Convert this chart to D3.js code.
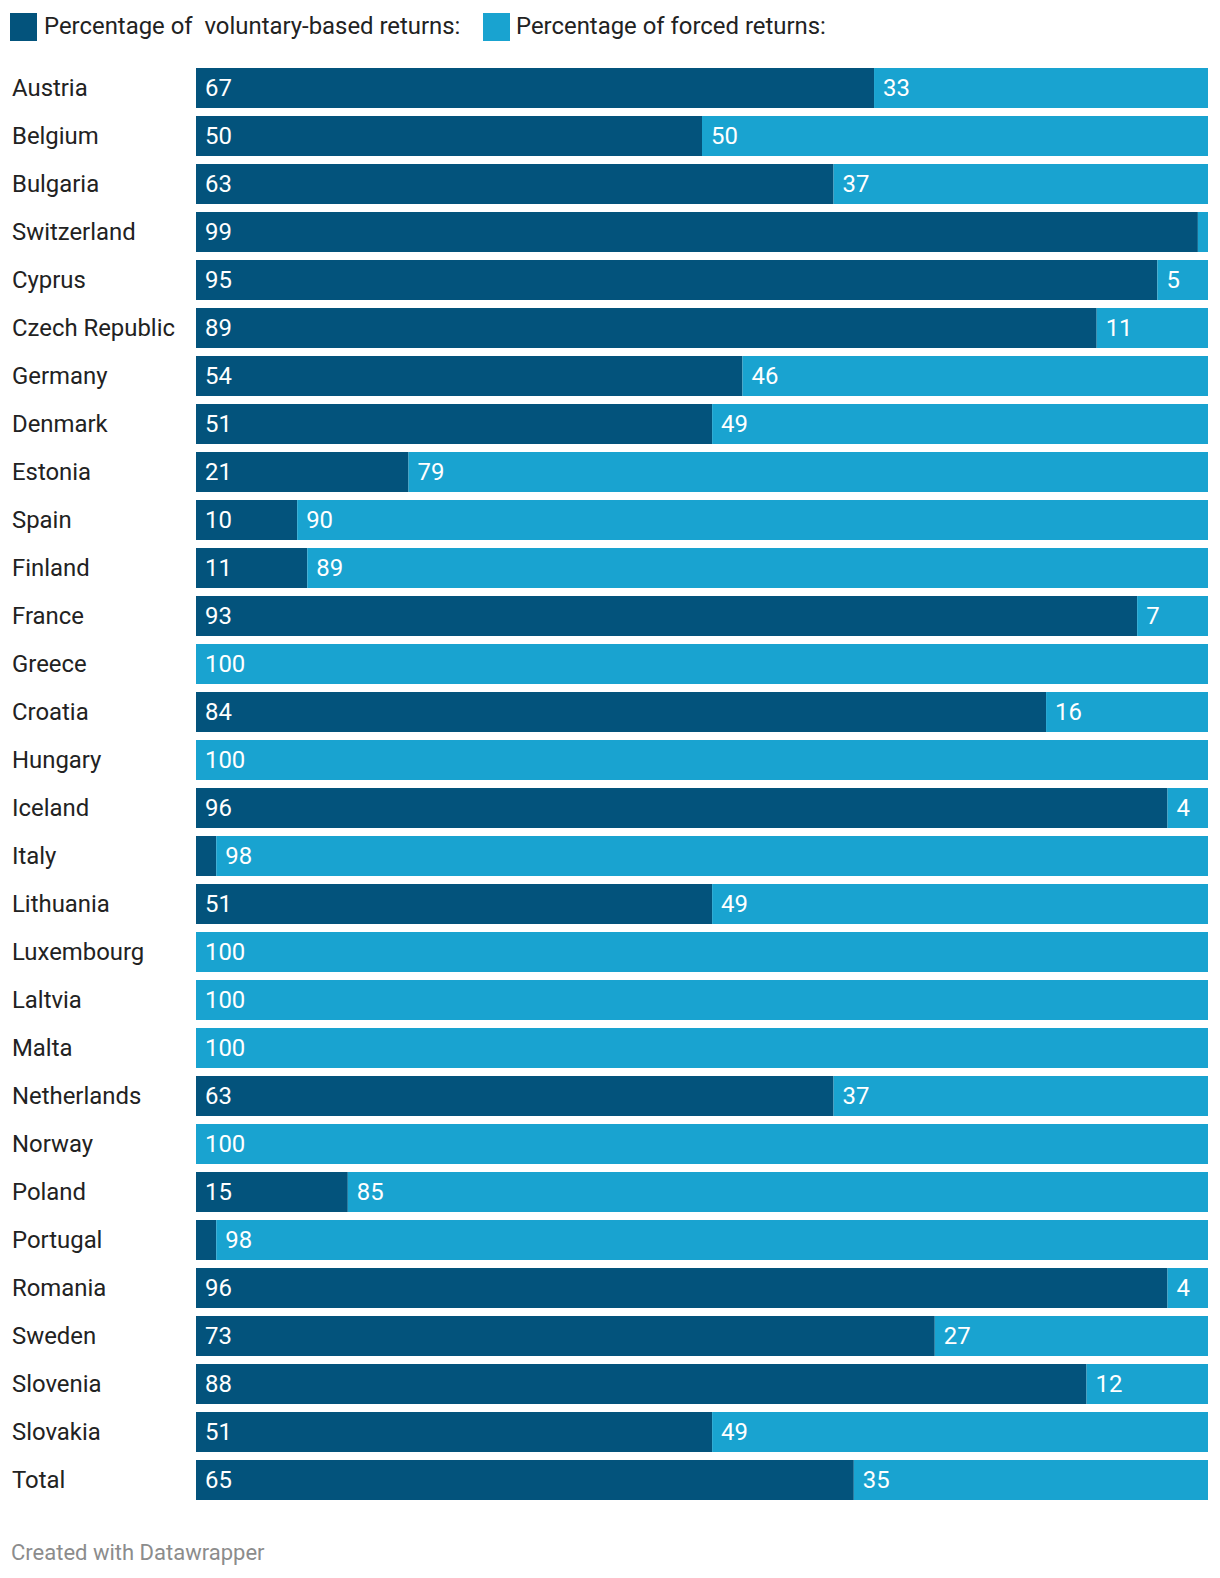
<!DOCTYPE html>
<html><head><meta charset="utf-8">
<script src="https://cdn.jsdelivr.net/npm/d3@7"></script>
<style>body{margin:0;background:#fff}svg{display:block;font-family:Roboto,"Noto Sans",sans-serif}text{white-space:pre}</style>
</head><body><svg id="c" width="1220" height="1578"></svg>
<script>
const categories = ["Austria","Belgium","Bulgaria","Switzerland","Cyprus","Czech Republic","Germany","Denmark","Estonia","Spain","Finland","France","Greece","Croatia","Hungary","Iceland","Italy","Lithuania","Luxembourg","Laltvia","Malta","Netherlands","Norway","Poland","Portugal","Romania","Sweden","Slovenia","Slovakia","Total"];
const voluntary = [67,50,63,99,95,89,54,51,21,10,11,93,0,84,0,96,2,51,0,0,0,63,0,15,2,96,73,88,51,65];
const forced    = [33,50,37,1,5,11,46,49,79,90,89,7,100,16,100,4,98,49,100,100,100,37,100,85,98,4,27,12,49,35];
const seriesNames = ["Percentage of  voluntary-based returns:", "Percentage of forced returns:"];
const colors = ["#03537c", "#19a3d0"];

const svg = d3.select("#c");
const x = d3.scaleLinear().domain([0,100]).range([196,1208]);
const y = d3.scaleBand().domain(categories).range([68,1500]).paddingInner(1/6).paddingOuter(0);

// legend
const legX = [10, 483], legTX = [44, 516];
seriesNames.forEach((s,i)=>{
  svg.append("rect").attr("x",legX[i]).attr("y",13).attr("width",27).attr("height",28).attr("fill",colors[i]);
  svg.append("text").attr("x",legTX[i]).attr("y",26).attr("dominant-baseline","central")
    .attr("xml:space","preserve")
    .attr("font-size",23.9).attr("fill","#222").text(s);
});

const rows = categories.map((c,i)=>({c, v:voluntary[i], f:forced[i]}));
const g = svg.append("g");
const row = g.selectAll("g.row").data(rows).join("g").attr("class","row");

row.append("text").attr("x",12).attr("y",d=>y(d.c)+y.bandwidth()/2).attr("dominant-baseline","central")
  .attr("font-size",23.9).attr("fill","#222").text(d=>d.c);

row.append("rect").attr("x",x(0)).attr("y",d=>y(d.c)).attr("height",y.bandwidth())
  .attr("width",d=>x(d.v)-x(0)).attr("fill",colors[0]);
row.append("rect").attr("x",d=>x(d.v)).attr("y",d=>y(d.c)).attr("height",y.bandwidth())
  .attr("width",d=>x(d.v+d.f)-x(d.v)).attr("fill",colors[1]);

row.filter(d=>x(d.v)-x(0)>30).append("text").attr("x",x(0)+9).attr("y",d=>y(d.c)+y.bandwidth()/2)
  .attr("dominant-baseline","central").attr("font-size",23.9).attr("fill","#fff").text(d=>d.v);
row.filter(d=>x(d.v+d.f)-x(d.v)>30).append("text").attr("x",d=>x(d.v)+9).attr("y",d=>y(d.c)+y.bandwidth()/2)
  .attr("dominant-baseline","central").attr("font-size",23.9).attr("fill","#fff").text(d=>d.f);

svg.append("text").attr("x",11).attr("y",1552).attr("dominant-baseline","central")
  .attr("font-size",22).attr("fill","#8c8c8c").text("Created with Datawrapper");
</script></body></html>
